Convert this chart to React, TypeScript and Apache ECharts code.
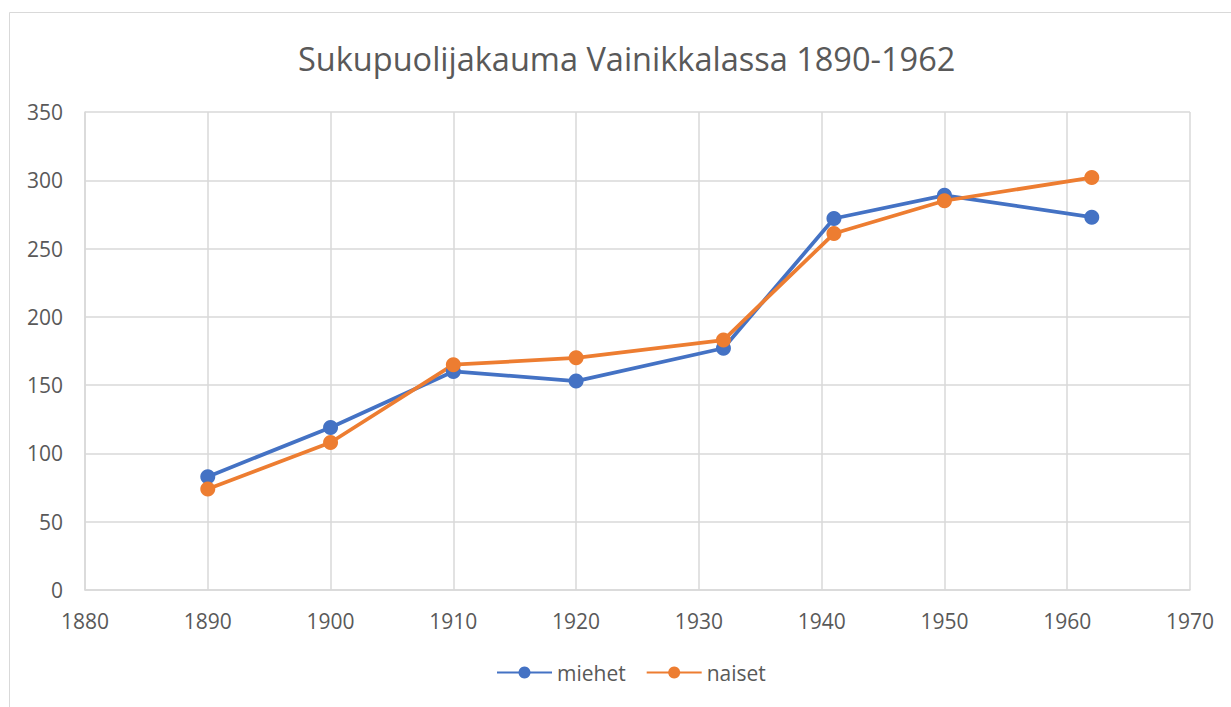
import React, { useEffect, useRef } from "react";
import * as echarts from "echarts";

const years = [1890, 1900, 1910, 1920, 1932, 1941, 1950, 1962];
const miehet = [83, 119, 160, 153, 177, 272, 289, 273];
const naiset = [74, 108, 165, 170, 183, 261, 285, 302];
const seriesNames = ["miehet", "naiset"];
const titleText = "Sukupuolijakauma Vainikkalassa 1890-1962";

export default function App() {
  const ref = useRef<HTMLDivElement>(null);
  useEffect(() => {
    document.body.style.margin = "0";
    const chart = echarts.init(ref.current!, undefined, { renderer: "svg" });
    const font = "'Open Sans', 'Noto Sans', sans-serif";
    chart.setOption({
      animation: false,
      backgroundColor: "#ffffff",
      title: {
        text: titleText,
        left: 293,
        top: 37,
        textStyle: { color: "#595959", fontSize: 32.5, fontWeight: "normal", fontFamily: font },
      },
      graphic: [
        {
          type: "rect",
          shape: { x: 9.5, y: 12.5, width: 1300, height: 800 },
          style: { fill: "none", stroke: "#d9d9d9", lineWidth: 1 },
          silent: true,
        },
      ],
      grid: { left: 85, right: 41, top: 112, bottom: 117 },
      xAxis: {
        type: "value",
        min: 1880,
        max: 1970,
        interval: 10,
        axisLine: { show: true, lineStyle: { color: "#d9d9d9", width: 1.5 } },
        axisTick: { show: false },
        splitLine: { show: true, lineStyle: { color: "#d9d9d9", width: 1.5 } },
        axisLabel: {
          color: "#595959",
          fontSize: 21,
          fontFamily: font,
          margin: 20,
          formatter: (v: number) => String(v),
        },
      },
      yAxis: {
        type: "value",
        min: 0,
        max: 350,
        interval: 50,
        axisLine: { show: true, lineStyle: { color: "#d9d9d9", width: 1.5 } },
        axisTick: { show: false },
        splitLine: { show: true, lineStyle: { color: "#d9d9d9", width: 1.5 } },
        axisLabel: { color: "#595959", fontSize: 21, fontFamily: font, margin: 22 },
      },
      legend: {
        top: 662,
        left: 496,
        itemWidth: 55,
        itemHeight: 15,
        itemGap: 20,
        padding: 0,
        textStyle: { color: "#595959", fontSize: 21, fontFamily: font },
        data: seriesNames,
      },
      series: [
        {
          name: seriesNames[0],
          type: "line",
          data: years.map((y, i) => [y, miehet[i]]),
          symbol: "circle",
          symbolSize: 15,
          lineStyle: { color: "#4472c4", width: 3.75 },
          itemStyle: { color: "#4472c4" },
        },
        {
          name: seriesNames[1],
          type: "line",
          data: years.map((y, i) => [y, naiset[i]]),
          symbol: "circle",
          symbolSize: 15,
          lineStyle: { color: "#ed7d31", width: 3.75 },
          itemStyle: { color: "#ed7d31" },
        },
      ],
    });
    return () => chart.dispose();
  }, []);
  return <div ref={ref} style={{ width: 1231, height: 707 }} />;
}
